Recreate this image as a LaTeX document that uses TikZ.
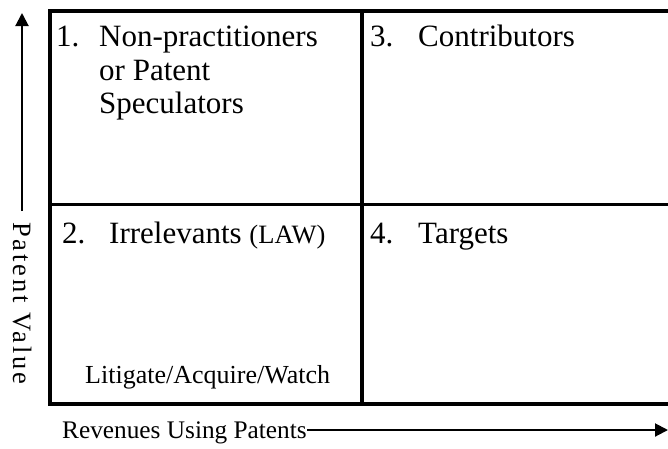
\documentclass[tikz,border=0pt]{standalone}
\usepackage{fontspec}
\setmainfont{Liberation Serif}
\usetikzlibrary{arrows.meta}
\begin{document}
\begin{tikzpicture}[x=1pt,y=-1pt,
  frame/.style={line width=4pt},
  divider/.style={line width=3.5pt},
  axis/.style={line width=2pt,-{Triangle[length=13pt,width=13pt]}},
  celltext/.style={anchor=base west,inner sep=0pt,font=\fontsize{31}{34}\selectfont},
  axistext/.style={inner sep=0pt,font=\fontsize{25.3}{28}\selectfont}]
  \useasboundingbox (0,0) rectangle (668,448);
  % quadrant grid (right edge runs off the page)
  \draw[frame] (700,11) -- (50,11) -- (50,403.5) -- (700,403.5);
  \draw[divider] (362,11) -- (362,403.5);
  \draw[divider] (50,204.5) -- (700,204.5);
  % cell texts
  \node[celltext] (n1) at (56,46.5) {1.};
  \node[celltext] (t1a) at (99,46.5) {Non-practitioners};
  \node[celltext] (t1b) at (99,80) {or Patent};
  \node[celltext] (t1c) at (99,113.5) {Speculators};
  \node[celltext] (n3) at (370,46.5) {3.};
  \node[celltext] (t3) at (418,46.5) {Contributors};
  \node[celltext] (n2) at (62,243) {2.};
  \node[celltext] (t2) at (109,243) {Irrelevants {\fontsize{26.5}{28}\selectfont (LAW)}};
  \node[celltext] (n4) at (370,243) {4.};
  \node[celltext] (t4) at (418,243) {Targets};
  \node[celltext,font=\fontsize{26}{28}\selectfont] (law) at (85,383) {Litigate/Acquire/Watch};
  % axes
  \node[axistext,anchor=base west] (xlab) at (62,438.5) {Revenues Using Patents};
  \node[axistext,rotate=-90,anchor=west,font=\fontsize{26.5}{28}\selectfont\addfontfeature{LetterSpace=11}] (ylab) at (22,222) {Patent Value};
  \coordinate (xs) at (307,430);
  \coordinate (xe) at (668,430);
  \coordinate (ys) at (22,211);
  \coordinate (ye) at (22,13);
  \draw[axis] (xs) -- (xe);
  \draw[axis] (ys) -- (ye);
\end{tikzpicture}
\end{document}
